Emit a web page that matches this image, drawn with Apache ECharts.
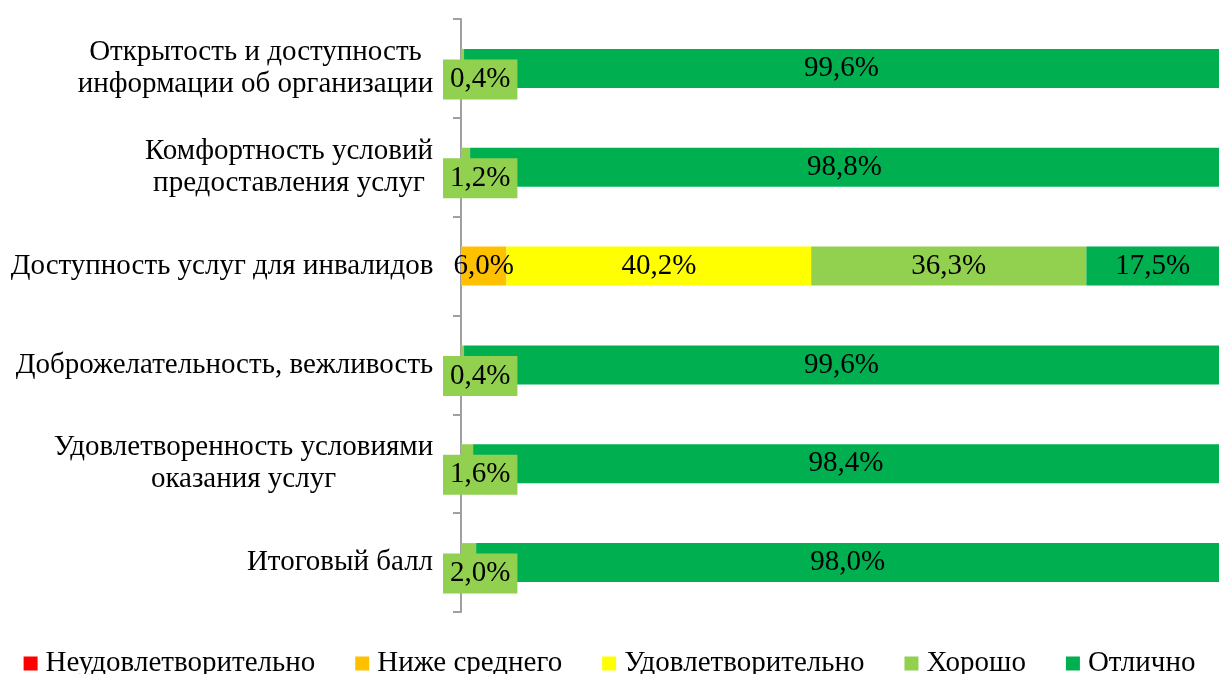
<!DOCTYPE html>
<html>
<head>
<meta charset="utf-8">
<script src="https://cdn.jsdelivr.net/npm/echarts@6/dist/echarts.min.js"></script>
<style>
html,body{margin:0;padding:0;background:#fff;}
#chart{width:1219px;height:674px;}
</style>
</head>
<body>
<div id="chart"></div>
<script>
const categories = [
  'Открытость и доступность\nинформации об организации',
  'Комфортность условий\nпредоставления услуг',
  'Доступность услуг для инвалидов',
  'Доброжелательность, вежливость',
  'Удовлетворенность условиями\nоказания услуг',
  'Итоговый балл'
];
const seriesNames = ['Неудовлетворительно', 'Ниже среднего', 'Удовлетворительно', 'Хорошо', 'Отлично'];
const unsatisfactory = [0, 0, 0, 0, 0, 0];
const belowAverage = [0, 0, 6.0, 0, 0, 0];
const satisfactory = [0, 0, 40.2, 0, 0, 0];
const good = [0.4, 1.2, 36.3, 0.4, 1.6, 2.0];
const excellent = [99.6, 98.8, 17.5, 99.6, 98.4, 98.0];
const colors = ['#ff0000', '#ffc000', '#ffff00', '#92d050', '#00b050'];

const FONT = '"Liberation Serif", "Times New Roman", serif';
const FS = 29;

const ctx = document.createElement('canvas').getContext('2d');
ctx.font = FS + 'px ' + FONT;
const rich = {};
categories.forEach((c, i) => {
  const w = Math.max(...c.split('\n').map(l => ctx.measureText(l).width));
  rich['r' + i] = {width: Math.ceil(w) + 1, align: 'center', fontSize: FS, lineHeight: 32, fontFamily: FONT, color: '#000'};
});

const fmt = p => (p.value > 0 ? p.value.toFixed(1).replace('.', ',') + '%' : '');

function makeData(arr, idx) {
  return arr.map(v => {
    if (idx === 3 && v > 0 && v < 5) {
      return {
        value: v,
        label: {
          position: [-18, '50%'],
          align: 'left',
          verticalAlign: 'middle',
          offset: [0, 11],
          backgroundColor: '#92d050',
          padding: [4, 7, 4, 7],
          lineHeight: 32
        }
      };
    }
    return v;
  });
}

const allValues = [unsatisfactory, belowAverage, satisfactory, good, excellent];

const option = {
  animation: false,
  grid: {left: 461, right: 0, top: 19, bottom: 62, containLabel: false},
  xAxis: {type: 'value', min: 0, max: 100, show: false},
  yAxis: {
    type: 'category',
    inverse: true,
    data: categories,
    axisLine: {show: true, lineStyle: {color: '#a0a0a0', width: 2}},
    axisTick: {show: true, length: 8, lineStyle: {color: '#a0a0a0', width: 2}},
    axisLabel: {
      margin: 27,
      align: 'right',
      formatter: (v, i) => v.split('\n').map(l => '{r' + i + '|' + l + '}').join('\n'),
      rich: rich
    }
  },
  legend: {
    data: seriesNames,
    left: 'center',
    top: 644,
    itemWidth: 14,
    itemHeight: 14,
    itemGap: 40,
    icon: 'rect',
    textStyle: {fontFamily: FONT, fontSize: FS, color: '#000', padding: [0, 0, 0, 3]}
  },
  series: seriesNames.map((name, idx) => ({
    name: name,
    type: 'bar',
    stack: 'total',
    barWidth: 39,
    itemStyle: {color: colors[idx]},
    label: {
      show: true,
      position: 'inside',
      formatter: fmt,
      fontFamily: FONT,
      fontSize: FS,
      color: '#000'
    },
    data: makeData(allValues[idx], idx)
  }))
};

const chart = echarts.init(document.getElementById('chart'));
chart.setOption(option);
</script>
</body>
</html>
